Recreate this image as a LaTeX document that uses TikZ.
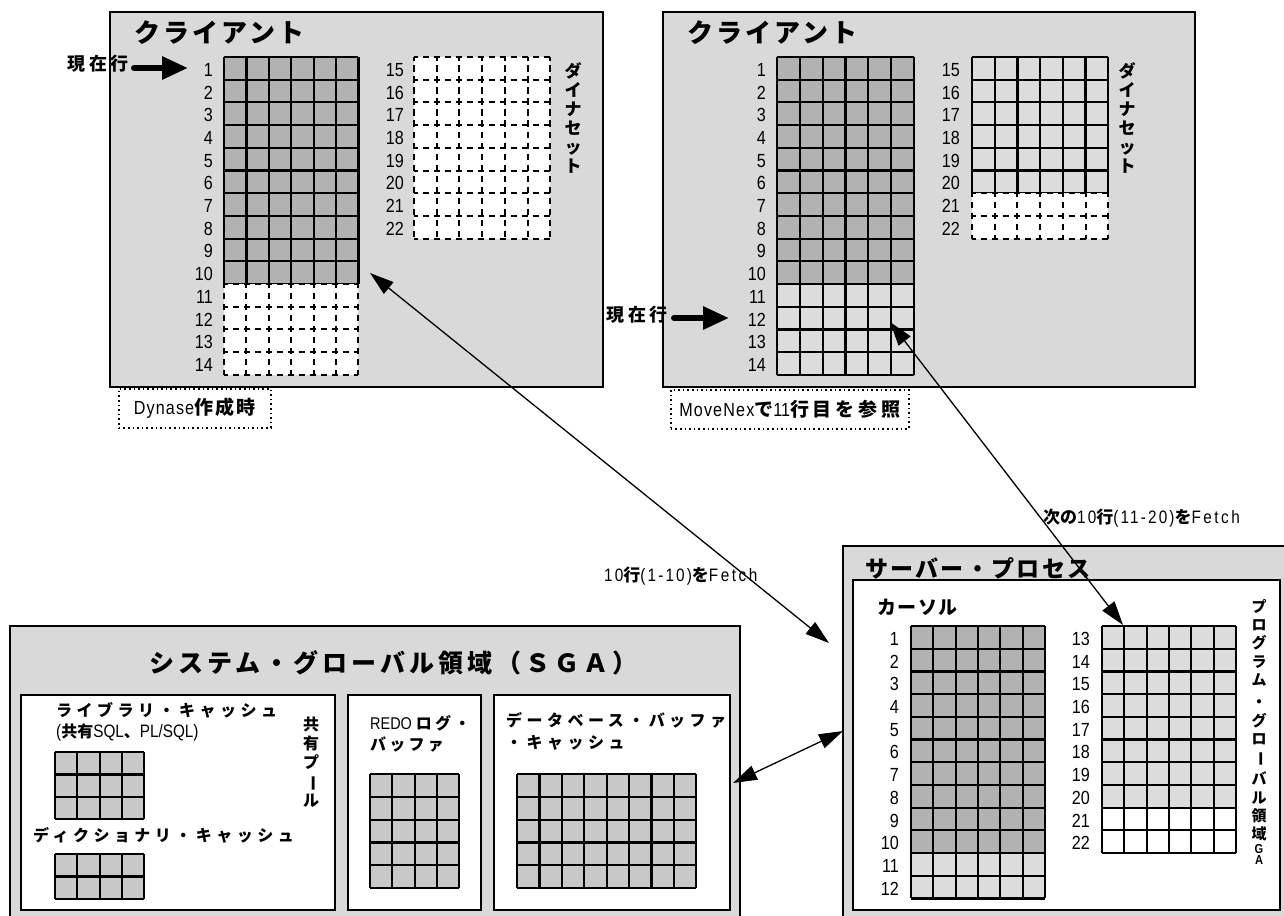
\documentclass[tikz,border=0pt]{standalone}
\usepackage{fontspec}
\usepackage{graphicx}
\setmainfont{Liberation Sans}
\newfontfamily\jp{Noto Sans CJK JP}
\newfontfamily\nar{Liberation Sans}[FakeStretch=0.85]
\usetikzlibrary{arrows.meta}
\definecolor{bgc}{HTML}{D9D9D9}
\definecolor{dkc}{HTML}{B2B2B2}
\definecolor{ltc}{HTML}{DCDCDC}
\definecolor{sgc}{HTML}{C8C8C8}
\newcommand\jt[3]{{\jp\bfseries\fontsize{#1}{#1}\selectfont\addfontfeature{LetterSpace=#2}#3}}
\newcommand\nt[3]{{\nar\fontsize{#1}{#1}\selectfont\addfontfeature{LetterSpace=#2}#3}}
\newcommand\vbar{\rotatebox[origin=c]{-90}{ー}}
\newcommand\gridcells[8]{%
  \fill[#7] (#1,#2) rectangle ({#1+#3*#5},{#2+#4*#6});
  \foreach \ii in {0,...,#3}{\draw[#8] ({#1+\ii*#5},#2) -- ({#1+\ii*#5},{#2+#4*#6});}
  \foreach \jj in {0,...,#4}{\draw[#8] (#1,{#2+\jj*#6}) -- ({#1+#3*#5},{#2+\jj*#6});}
}
\begin{document}
\begin{tikzpicture}[x=1pt,y=-1pt,
  box/.style={draw=black,fill=bgc,line width=1.5pt},
  wbox/.style={draw=black,fill=white,line width=1.5pt},
  sl/.style={draw=black,line width=2.2pt},
  dl/.style={draw=black,line width=2pt,dash pattern=on 6.5pt off 4.5pt,dash phase=2.5pt},
  num/.style={font=\nar\fontsize{19}{19}\selectfont,anchor=east,inner sep=0pt},
  capbox/.style={draw=black,line width=1.6pt,dash pattern=on 1.6pt off 3pt,inner sep=0pt,anchor=north west},
  conn/.style={line width=1.3pt,{Triangle[length=24pt,width=15pt]}-{Triangle[length=24pt,width=15pt]}},
  fat/.style={line width=6pt,line cap=round,-{Triangle[length=26pt,width=22pt]}},
  lbl/.style={inner sep=0pt,anchor=west},
  vtxt/.style={inner sep=0pt,anchor=north,align=center},
]
\useasboundingbox (0,0) rectangle (1284,915);
\clip (0,0) rectangle (1284,915);

% ---------- left client ----------
\draw[box] (110,12) rectangle (603,387);
\node[lbl] (t1) at (134,33) {\jt{26}{12}{クライアント}};
\gridcells{224}{57}{6}{10}{22.4}{22.7}{dkc}{sl}
\gridcells{224}{284}{6}{4}{22.4}{22.7}{white}{dl}
\gridcells{414}{57}{6}{8}{22.7}{22.7}{white}{dl}
\foreach \k in {1,...,14} \node[num] (la\k) at (213,{57+(\k-0.5)*22.7+1.5}) {\k};
\foreach \k in {15,...,22} \node[num] (lb\k) at (404,{57+(\k-14.5)*22.7+1.5}) {\k};
\node[vtxt,font=\jp\bfseries\fontsize{17}{19}\selectfont] (v1) at (573,62) {ダ\\イ\\ナ\\セ\\ッ\\ト};
\node[anchor=east,inner sep=0pt] (cur1) at (129,64) {\jt{18}{20}{現在行}};
\coordinate (ca1) at (134,68);
\coordinate (cb1) at (188,68);
\draw[fat] (ca1) -- (cb1);
\node[capbox,minimum width=152pt,minimum height=39pt] (c1) at (118,388) {};
\node (c1t) at (c1.center) {\nt{19}{6}{Dynase}\jt{19}{12}{作成時}};

% ---------- right client ----------
\draw[box] (663,12) rectangle (1195,387);
\node[lbl] (t2) at (687,33) {\jt{26}{12}{クライアント}};
\gridcells{777}{57}{6}{10}{22.8}{22.7}{dkc}{sl}
\gridcells{777}{284}{6}{4}{22.8}{22.7}{ltc}{sl}
\gridcells{972}{57}{6}{6}{22.7}{22.7}{ltc}{sl}
\gridcells{972}{193.2}{6}{2}{22.7}{22.7}{white}{dl}
\foreach \k in {1,...,14} \node[num] (ra\k) at (766,{57+(\k-0.5)*22.7+1.5}) {\k};
\foreach \k in {15,...,22} \node[num] (rb\k) at (960,{57+(\k-14.5)*22.7+1.5}) {\k};
\node[vtxt,font=\jp\bfseries\fontsize{17}{19}\selectfont] (v2) at (1127,62) {ダ\\イ\\ナ\\セ\\ッ\\ト};
\node[anchor=east,inner sep=0pt] (cur2) at (668,315) {\jt{18}{20}{現在行}};
\coordinate (ca2) at (674,318);
\coordinate (cb2) at (729,318);
\draw[fat] (ca2) -- (cb2);
\node[capbox,minimum width=238pt,minimum height=39pt] (c2) at (670,389) {};
\node (c2t) at (c2.center) {\nt{19}{6}{MoveNex}\jt{19}{0}{で}\nt{19}{0}{11}\jt{19}{20}{行目を参照}};

% ---------- server process ----------
\draw[box] (843,546) rectangle (1300,930);
\draw[wbox] (853,580) rectangle (1280,910);
\node[lbl] (ts) at (865,568) {\jt{23}{10}{サーバー・プロセス}};
\node[lbl] (tk) at (877,607) {\jt{19}{8}{カーソル}};
\gridcells{911}{626}{6}{10}{22.33}{22.7}{dkc}{sl}
\gridcells{911}{853}{6}{2}{22.33}{22.7}{ltc}{sl}
\gridcells{1102}{626}{6}{8}{22.33}{22.7}{ltc}{sl}
\gridcells{1102}{807.6}{6}{2}{22.33}{22.7}{white}{sl}
\foreach \k in {1,...,12} \node[num] (sa\k) at (899,{626+(\k-0.5)*22.7+1.5}) {\k};
\foreach \k in {13,...,22} \node[num] (sb\k) at (1090,{626+(\k-12.5)*22.7+1.5}) {\k};
\node[vtxt,font=\jp\bfseries\fontsize{15}{18.3}\selectfont] (v3) at (1259,599)
  {プ\\ロ\\グ\\ラ\\ム\\[4pt]・\\グ\\ロ\\\vbar\\[4pt]バ\\ル\\領\\域\\[-4.5pt]{\nar\bfseries\fontsize{13}{13}\selectfont G}\\[-7pt]{\nar\bfseries\fontsize{13}{13}\selectfont A}};

% ---------- SGA ----------
\draw[box] (10,626) rectangle (740,930);
\node[inner sep=0pt] (tg) at (393,663) {\jt{25}{16}{システム・グローバル領域（ＳＧＡ）}};
\draw[wbox] (21,695) rectangle (335,910);
\draw[wbox] (348,695) rectangle (481,910);
\draw[wbox] (494,695) rectangle (730,910);
\node[lbl] (l1) at (56,710) {\jt{16}{28}{ライブラリ・キャッシュ}};
\node[lbl] (l2) at (56,733) {\nt{18}{0}{(}\jt{16}{0}{共有}\nt{18}{0}{SQL}\jt{16}{0}{、}\nt{18}{0}{PL/SQL)}};
\node[vtxt,font=\jp\bfseries\fontsize{16}{19}\selectfont] (v4) at (311,717) {共\\有\\プ\\\vbar\\ル};
\node[lbl] (l3) at (33,835) {\jt{16}{28}{ディクショナリ・キャッシュ}};
\gridcells{55}{752}{4}{3}{22.3}{22.4}{sgc}{sl}
\gridcells{55}{854}{4}{2}{22.3}{22.4}{sgc}{sl}
\node[lbl] (r1) at (370,723) {\nt{17}{0}{REDO }\jt{16}{20}{ログ・}};
\node[lbl] (r2) at (370,744) {\jt{16}{20}{バッファ}};
\gridcells{370}{774}{4}{5}{22.3}{22.8}{sgc}{sl}
\node[lbl] (d1) at (506,720) {\jt{16}{28}{データベース・バッファ}};
\node[lbl] (d2) at (506,743) {\jt{16}{28}{・キャッシュ}};
\gridcells{517}{774}{8}{5}{22.4}{22.8}{sgc}{sl}

% ---------- labels ----------
\node[lbl] (f1) at (604,576) {\nt{18}{12}{10}\jt{17}{0}{行}\nt{18}{12}{(1-10)}\jt{17}{0}{を}\nt{18}{14}{Fetch}};
\node[lbl] (f2) at (1043,518) {\jt{17}{0}{次の}\nt{18}{12}{10}\jt{17}{0}{行}\nt{18}{12}{(11-20)}\jt{17}{0}{を}\nt{18}{14}{Fetch}};

% ---------- connectors ----------
\coordinate (p1) at (370,273);
\coordinate (p2) at (829,643);
\draw[conn] (p1) -- (p2);
\coordinate (q1) at (890,322);
\coordinate (q2) at (1123,625);
\draw[conn] (q1) -- (q2);
\coordinate (s1) at (733,783);
\coordinate (s2) at (843,731);
\draw[conn] (s1) -- (s2);
\end{tikzpicture}
\end{document}
